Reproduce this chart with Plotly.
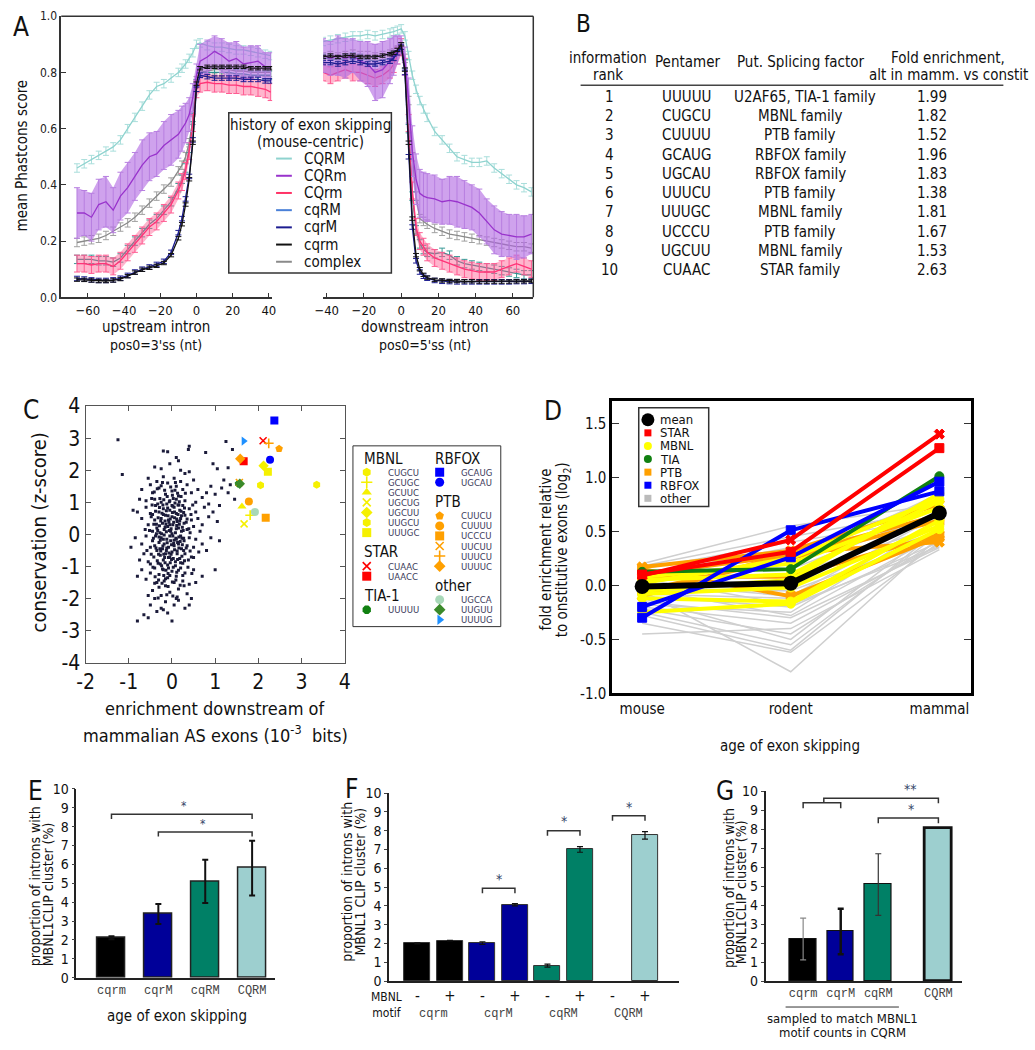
import plotly.graph_objects as go

W, H = 1035, 1050
FONT = "DejaVu Sans Condensed, Liberation Sans Narrow, DejaVu Sans, sans-serif"
MONO = "Courier New, Liberation Mono, monospace"

# ---------------- Panel A data ----------------
A_up_pos = [-66, -62, -58, -54, -50, -46, -42, -38, -34, -30, -26, -22, -18, -14, -10, -8, -6, -4, -2, 0,
            2, 6, 10, 14, 18, 22, 26, 30, 34, 38, 41]
A_dn_pos = [-42, -38, -34, -30, -26, -22, -18, -14, -10, -6, -4, -2, 0,
            2, 4, 6, 8, 10, 12, 14, 18, 22, 26, 30, 34, 38, 42, 46, 50, 54, 58, 62, 66, 70]

A_up_CQRM = [0.46, 0.475, 0.49, 0.505, 0.52, 0.535, 0.56, 0.60, 0.64, 0.68, 0.72, 0.75, 0.76, 0.78, 0.80, 0.815,
             0.83, 0.85, 0.87, 0.90, 0.905, 0.895, 0.89, 0.89, 0.885, 0.88, 0.88, 0.875, 0.87, 0.865, 0.86]
A_up_CQRm = [0.30, 0.30, 0.285, 0.33, 0.34, 0.31, 0.36, 0.39, 0.43, 0.47, 0.50, 0.51, 0.54, 0.56, 0.58, 0.60,
             0.62, 0.65, 0.71, 0.79, 0.84, 0.855, 0.875, 0.86, 0.84, 0.85, 0.83, 0.835, 0.84, 0.82, 0.82]
A_up_CQRm_err = [0.09, 0.08, 0.085, 0.09, 0.09, 0.08, 0.085, 0.09, 0.085, 0.09, 0.085, 0.08, 0.085, 0.09, 0.085,
                 0.08, 0.07, 0.06, 0.05, 0.04, 0.06, 0.06, 0.055, 0.06, 0.065, 0.06, 0.06, 0.06, 0.055, 0.05, 0.05]
A_up_CQrm = [0.12, 0.12, 0.115, 0.12, 0.12, 0.11, 0.13, 0.16, 0.19, 0.22, 0.25, 0.27, 0.30, 0.33, 0.38, 0.41,
             0.45, 0.52, 0.62, 0.74, 0.76, 0.765, 0.76, 0.76, 0.755, 0.755, 0.75, 0.75, 0.745, 0.74, 0.73]
A_up_cqRM = [0.135, 0.135, 0.135, 0.13, 0.13, 0.125, 0.14, 0.17, 0.20, 0.23, 0.26, 0.28, 0.31, 0.34, 0.39, 0.42,
             0.46, 0.53, 0.64, 0.76, 0.80, 0.80, 0.80, 0.80, 0.80, 0.795, 0.795, 0.79, 0.79, 0.79, 0.79]
A_up_cqrM = [0.067, 0.065, 0.062, 0.06, 0.06, 0.062, 0.068, 0.078, 0.09, 0.10, 0.108, 0.117, 0.128, 0.16, 0.23,
             0.28, 0.35, 0.43, 0.56, 0.74, 0.79, 0.785, 0.78, 0.78, 0.78, 0.78, 0.775, 0.775, 0.775, 0.77, 0.77]
A_up_cqrm = [0.063, 0.062, 0.06, 0.058, 0.058, 0.06, 0.065, 0.075, 0.088, 0.098, 0.105, 0.112, 0.122, 0.15, 0.21,
             0.26, 0.33, 0.42, 0.55, 0.76, 0.815, 0.82, 0.82, 0.82, 0.82, 0.82, 0.82, 0.815, 0.815, 0.815, 0.815]
A_up_complex = [0.195, 0.20, 0.205, 0.21, 0.22, 0.235, 0.25, 0.265, 0.285, 0.31, 0.335, 0.36, 0.385, 0.41, 0.45,
                0.47, 0.50, 0.55, 0.63, 0.77, 0.80, 0.805, 0.81, 0.81, 0.81, 0.805, 0.805, 0.80, 0.80, 0.80, 0.80]

A_dn_CQRM = [0.91, 0.915, 0.92, 0.925, 0.93, 0.93, 0.935, 0.93, 0.935, 0.94, 0.945, 0.95, 0.955,
             0.93, 0.86, 0.79, 0.74, 0.70, 0.67, 0.64, 0.59, 0.56, 0.53, 0.50, 0.49, 0.48, 0.48, 0.485, 0.46,
             0.44, 0.42, 0.40, 0.39, 0.375]
A_dn_CQRm = [0.86, 0.85, 0.86, 0.85, 0.86, 0.84, 0.83, 0.80, 0.81, 0.84, 0.86, 0.88, 0.90,
             0.84, 0.70, 0.52, 0.42, 0.37, 0.36, 0.355, 0.35, 0.34, 0.345, 0.34, 0.33, 0.32, 0.30, 0.27, 0.24,
             0.225, 0.22, 0.215, 0.215, 0.225]
A_dn_CQRm_err = [0.06, 0.06, 0.07, 0.07, 0.06, 0.07, 0.08, 0.10, 0.10, 0.08, 0.07, 0.05, 0.03,
                 0.05, 0.08, 0.09, 0.09, 0.085, 0.085, 0.085, 0.085, 0.08, 0.085, 0.09, 0.085, 0.08, 0.085,
                 0.08, 0.085, 0.08, 0.075, 0.08, 0.075, 0.07]
A_dn_CQrm = [0.80, 0.79, 0.80, 0.81, 0.80, 0.80, 0.79, 0.78, 0.79, 0.81, 0.83, 0.86, 0.89,
             0.82, 0.62, 0.38, 0.25, 0.20, 0.18, 0.16, 0.14, 0.13, 0.12, 0.11, 0.10, 0.095, 0.09, 0.09, 0.09,
             0.10, 0.11, 0.12, 0.11, 0.10]
A_dn_cqRM = [0.85, 0.85, 0.845, 0.85, 0.855, 0.85, 0.845, 0.84, 0.845, 0.85, 0.86, 0.875, 0.89,
             0.83, 0.60, 0.36, 0.24, 0.19, 0.17, 0.16, 0.155, 0.16, 0.15, 0.13, 0.12, 0.115, 0.11, 0.105, 0.10,
             0.095, 0.09, 0.085, 0.08, 0.08]
A_dn_cqrM = [0.835, 0.835, 0.83, 0.835, 0.84, 0.835, 0.83, 0.83, 0.835, 0.84, 0.85, 0.87, 0.89,
             0.80, 0.50, 0.25, 0.13, 0.09, 0.075, 0.068, 0.06, 0.057, 0.056, 0.055, 0.055, 0.055, 0.055, 0.055,
             0.055, 0.055, 0.055, 0.056, 0.056, 0.057]
A_dn_cqrm = [0.855, 0.86, 0.855, 0.86, 0.86, 0.855, 0.855, 0.855, 0.86, 0.865, 0.87, 0.88, 0.90,
             0.81, 0.55, 0.28, 0.15, 0.10, 0.08, 0.07, 0.062, 0.06, 0.058, 0.058, 0.057, 0.057, 0.056, 0.056,
             0.056, 0.056, 0.056, 0.057, 0.057, 0.058]
A_dn_complex = [0.855, 0.86, 0.855, 0.86, 0.865, 0.86, 0.86, 0.855, 0.86, 0.865, 0.87, 0.88, 0.89,
                0.85, 0.70, 0.50, 0.36, 0.28, 0.27, 0.26, 0.245, 0.235, 0.225, 0.22, 0.215, 0.21, 0.205, 0.20,
                0.195, 0.19, 0.185, 0.18, 0.18, 0.175]
# constant-size error bars
A_err_CQRM, A_err_CQrm, A_err_cqRM, A_err_cqrM, A_err_cqrm, A_err_complex = 0.015, 0.03, 0.015, 0.008, 0.006, 0.015
A_legend_names = ["CQRM", "CQRm", "CQrm", "cqRM", "cqrM", "cqrm", "complex"]

# ---------------- Panel B data ----------------
B_rank = ["1", "2", "3", "4", "5", "6", "7", "8", "9", "10"]
B_pentamer = ["UUUUU", "CUGCU", "CUUUU", "GCAUG", "UGCAU", "UUUCU", "UUUGC", "UCCCU", "UGCUU", "CUAAC"]
B_factor = ["U2AF65, TIA-1 family", "MBNL family", "PTB family", "RBFOX family", "RBFOX family", "PTB family",
            "MBNL family", "PTB family", "MBNL family", "STAR family"]
B_fold = ["1.99", "1.82", "1.52", "1.96", "1.83", "1.38", "1.81", "1.67", "1.53", "2.63"]

# ---------------- Panel C data ----------------
C_background = [
    (-1.25, 2.95), (-1.15, 1.87), (-0.2, 2.6), (-0.1, 2.58), (0.4, 2.75), (0.38, 2.65), (0.1, 2.4), (0.15, 2.3),
    (0.78, 2.55), (0.95, 2.2), (1.25, 2.9), (1.4, 2.65), (1.05, 2.05), (1.3, 2.08), (-0.4, 2.1), (-0.05, 2.2),
    (0.2, 2.0), (-0.25, 2.05), (0.4, 1.95), (0.3, 1.9),
    (-0.7, 1.4), (-0.55, 1.75), (-0.5, 1.55), (-0.45, 1.3), (-0.35, 1.65), (-0.3, 1.45), (-0.2, 1.8), (-0.15, 1.25),
    (-0.1, 1.6), (0.0, 1.35), (0.05, 1.75), (0.1, 1.5), (0.15, 1.2), (0.2, 1.65), (0.25, 1.4), (0.35, 1.55),
    (0.45, 1.3), (0.5, 1.7), (0.6, 1.4), (0.7, 1.15), (0.8, 1.3), (0.9, 1.5), (1.0, 1.25), (1.15, 1.45),
    (1.2, 1.7), (1.3, 1.3), (1.35, 1.55), (1.45, 1.1), (-0.6, 1.05), (-0.4, 1.1), (-0.25, 1.0), (-0.05, 1.05),
    (0.1, 1.1), (0.3, 1.05), (0.55, 1.0), (0.85, 0.95), (-0.75, 1.1), (-0.8, 0.7), (-0.9, 0.75),
    (-0.7, 0.5), (-0.6, 0.85), (-0.55, 0.3), (-0.5, 0.65), (-0.45, 0.1), (-0.4, 0.45), (-0.38, 0.9), (-0.35, 0.2),
    (-0.3, 0.7), (-0.28, 0.05), (-0.25, 0.5), (-0.22, 0.35), (-0.2, 0.8), (-0.18, 0.15), (-0.15, 0.6), (-0.12, 0.95),
    (-0.1, 0.25), (-0.08, 0.45), (-0.05, 0.75), (-0.03, 0.1), (0.0, 0.55), (0.02, 0.3), (0.05, 0.85), (0.08, 0.05),
    (0.1, 0.65), (0.12, 0.4), (0.15, 0.2), (0.18, 0.75), (0.2, 0.5), (0.22, 0.1), (0.25, 0.9), (0.28, 0.35),
    (0.3, 0.6), (0.35, 0.15), (0.4, 0.8), (0.45, 0.45), (0.5, 0.25), (0.55, 0.7), (0.6, 0.5), (0.7, 0.3),
    (0.75, 0.85), (0.85, 0.55), (0.95, 0.7), (1.05, 0.4), (1.1, 0.9), (-0.62, 0.15), (-0.48, 0.55), (-0.33, 0.95),
    (-0.16, 0.42), (0.06, 0.7), (0.16, 0.92), (0.33, 0.38), (0.42, 0.05), (0.65, 0.1), (-0.05, 0.3), (0.0, 0.9),
    (-0.85, -0.1), (-0.7, -0.3), (-0.65, -0.6), (-0.6, -0.05), (-0.55, -0.85), (-0.5, -0.4), (-0.45, -0.2),
    (-0.42, -0.7), (-0.38, -0.05), (-0.35, -0.5), (-0.32, -0.9), (-0.3, -0.25), (-0.27, -0.65), (-0.25, -0.1),
    (-0.22, -0.45), (-0.2, -0.8), (-0.18, -0.3), (-0.15, -0.6), (-0.12, -0.15), (-0.1, -0.95), (-0.08, -0.4),
    (-0.05, -0.7), (-0.03, -0.2), (0.0, -0.55), (0.02, -0.05), (0.05, -0.35), (0.08, -0.85), (0.1, -0.15),
    (0.12, -0.6), (0.15, -0.3), (0.18, -0.75), (0.2, -0.05), (0.22, -0.45), (0.25, -0.9), (0.28, -0.2),
    (0.3, -0.6), (0.35, -0.35), (0.4, -0.1), (0.45, -0.7), (0.5, -0.4), (0.55, -0.15), (0.62, -0.55), (0.7, -0.3),
    (0.8, -0.5), (0.9, -0.1), (1.1, -0.2), (-0.95, -0.4), (-0.75, -0.8), (-0.58, -0.5), (-0.4, -0.35),
    (-0.28, -0.45), (-0.13, -0.5), (0.03, -0.75), (0.13, -0.25), (0.27, -0.5), (0.38, -0.8), (-0.2, -0.15),
    (-0.05, -0.05),
    (-0.7, -1.1), (-0.6, -1.4), (-0.5, -1.2), (-0.45, -1.75), (-0.4, -1.05), (-0.35, -1.5), (-0.3, -1.25),
    (-0.25, -1.9), (-0.2, -1.1), (-0.15, -1.6), (-0.1, -1.35), (-0.05, -1.8), (0.0, -1.15), (0.05, -1.5),
    (0.1, -1.3), (0.15, -1.7), (0.2, -1.05), (0.25, -1.45), (0.3, -1.2), (0.35, -1.85), (0.4, -1.55), (0.5, -1.1),
    (0.55, -1.5), (0.7, -1.3), (1.0, -1.1), (-0.8, -1.3), (-0.55, -1.9), (-0.3, -1.65), (-0.08, -1.05),
    (0.12, -1.95), (0.28, -1.6), (-0.18, -1.45),
    (-0.65, -2.5), (-0.5, -2.2), (-0.4, -2.0), (-0.35, -2.4), (-0.25, -2.3), (-0.15, -2.1), (-0.1, -2.45),
    (0.0, -2.7), (0.05, -2.2), (0.15, -2.05), (0.3, -2.3), (0.4, -2.2), (0.45, -2.0), (-0.8, -2.7), (-0.55, -2.6),
    (-0.2, -2.35), (0.1, -2.0),
    (-0.33, 0.12), (-0.31, -0.62), (-0.29, 0.84), (-0.27, -0.18), (-0.26, 0.42), (-0.24, -0.98), (-0.23, 0.66),
    (-0.21, -0.36), (-0.19, 1.08), (-0.17, -0.72), (-0.16, 0.22), (-0.14, -1.12), (-0.13, 0.74), (-0.11, -0.26),
    (-0.09, 0.58), (-0.07, -0.58), (-0.06, 1.02), (-0.04, -0.88), (-0.02, 0.18), (-0.01, -0.32), (0.01, 0.68),
    (0.03, -1.02), (0.04, 0.38), (0.06, -0.48), (0.07, 0.98), (0.09, -0.12), (0.11, 0.28), (0.13, -0.78),
    (0.14, 0.62), (0.16, -0.42), (0.17, 1.02), (0.19, -0.22), (0.21, 0.72), (0.23, -0.68), (0.24, 0.22),
    (-0.34, -0.82), (-0.32, 0.52), (-0.3, -0.08), (-0.28, 1.12), (-0.26, -0.52), (-0.24, 0.02), (-0.22, -1.08),
    (-0.2, 0.62), (-0.18, -0.02), (-0.16, -0.88), (-0.14, 0.32), (-0.12, -0.42), (-0.1, 0.82), (-0.08, -0.72),
    (-0.06, 0.12), (-0.04, 0.48), (-0.02, -0.62), (0.0, 0.02), (0.02, 0.88), (0.04, -0.28), (0.06, 0.52),
    (0.08, -0.98), (0.1, 0.18), (0.12, -0.52), (0.14, 0.92), (0.16, -0.08), (0.18, 0.42), (0.2, -0.88),
    (0.22, 0.58), (0.24, -0.32), (-0.36, 0.32), (-0.37, -0.42), (-0.38, 0.72), (0.26, 0.12), (0.27, -0.12),
    (0.29, 0.82), (-0.09, -1.22), (0.01, 1.22), (-0.19, -1.28), (0.11, -1.18),
    (-0.45, 0.62), (-0.43, -0.12), (-0.41, 1.32), (-0.39, -1.32), (-0.36, 0.02), (-0.34, 1.42), (-0.31, -1.42),
    (-0.29, 0.27), (-0.27, -0.92), (-0.25, 1.52), (-0.23, -1.52), (-0.21, 0.92), (-0.19, -0.62), (-0.17, 1.38),
    (-0.15, -1.38), (-0.13, 0.08), (-0.11, 1.18), (-0.09, -1.62), (-0.07, 0.38), (-0.05, -1.28), (-0.03, 1.48),
    (-0.01, -0.78), (0.01, -1.48), (0.03, 1.12), (0.05, -0.18), (0.07, 1.38), (0.09, -1.42), (0.11, 0.48),
    (0.13, 1.28), (0.15, -1.12), (0.17, 0.32), (0.19, -1.58), (0.21, 1.18), (0.23, -0.12), (0.25, -1.28),
    (0.27, 0.68), (0.29, -0.82), (0.31, 1.28), (0.33, -0.42), (0.35, 0.48), (0.37, -1.02), (0.39, 0.18),
    (-0.48, -0.62), (-0.46, 0.92), (-0.44, -1.02), (-0.42, 0.32), (-0.4, -1.52), (-0.52, 0.12), (-0.5, -0.92),
    (-0.47, 1.12), (0.42, -0.52), (0.44, 0.62), (0.46, -1.22), (0.48, 0.92), (0.5, -0.72), (-0.12, -1.88),
    (0.02, -1.92), (-0.22, 1.62), (0.08, 1.62), (-0.32, -1.98),
]
C_motif = ["CUGCU", "GCUGC", "GCUUC", "UGCUG", "UGCUU", "UUGCU", "UUUGC", "CUAAC", "UAACC", "UUUUU",
           "GCAUG", "UGCAU", "CUUCU", "CUUUU", "UCCCU", "UUCUU", "UUUCU", "UUUUC", "UGCCA", "UUGUU", "UUUUG"]
C_family = ["MBNL"] * 7 + ["STAR"] * 2 + ["TIA-1"] + ["RBFOX"] * 2 + ["PTB"] * 6 + ["other"] * 3
C_enrich = [3.35, 1.81, 1.62, 1.67, 2.12, 2.05, 2.22, 2.11, 1.66, 1.55, 2.37, 2.27, 2.48, 1.78, 2.17, 1.56,
            2.24, 1.58, 1.92, 1.57, 1.66]
C_cons = [1.55, 0.60, 0.87, 0.33, 2.14, 1.53, 1.95, 2.92, 2.28, 1.58, 3.55, 2.33, 2.67, 1.03, 0.52, 1.62,
          2.84, 2.36, 0.70, 1.58, 2.91]

# ---------------- Panel D data ----------------
D_ages = ["mouse", "rodent", "mammal"]
D_mean = [-0.01, 0.02, 0.67]
D_STAR = [[0.09, 0.42, 1.40], [0.10, 0.31, 1.27]]
D_RBFOX = [[-0.30, 0.51, 0.87], [-0.20, 0.26, 0.96]]
D_TIA = [[0.125, 0.15, 1.01]]
D_MBNL = [[-0.25, -0.17, 0.52], [-0.12, -0.15, 0.60], [-0.05, 0.05, 0.85], [0.05, 0.10, 0.78],
          [0.08, 0.20, 0.72], [0.02, 0.25, 0.80], [-0.08, -0.02, 0.55]]
D_PTB = [[0.17, 0.32, 0.75], [0.15, -0.10, 0.45], [0.10, 0.28, 0.65], [0.08, 0.08, 0.47],
         [-0.05, 0.25, 0.60], [-0.10, 0.30, 0.40]]
D_other = [[0.20, 0.55, 0.75], [0.18, 0.45, 0.70], [0.15, 0.40, 0.62], [0.10, 0.35, 0.58], [0.12, 0.30, 0.80],
           [0.05, 0.10, 0.55], [0.00, 0.05, 0.50], [-0.05, -0.05, 0.45], [-0.10, -0.20, 0.40],
           [-0.15, -0.30, 0.35], [-0.20, -0.35, 0.38], [-0.22, -0.45, 0.42], [-0.25, -0.55, 0.48],
           [-0.28, -0.60, 0.52], [-0.05, -0.80, 0.45], [-0.45, -0.40, 0.33], [-0.18, -0.25, 0.60],
           [0.02, -0.10, 0.65], [-0.08, -0.12, 0.50], [0.08, 0.20, 0.85], [-0.12, -0.50, 0.55],
           [-0.03, -0.28, 0.47], [0.14, 0.15, 0.68], [-0.35, -0.62, 0.40], [0.06, -0.18, 0.36]]

# ---------------- Panels E, F, G data ----------------
E_cats = ["cqrm", "cqrM", "cqRM", "CQRM"]
E_vals = [2.12, 3.37, 5.1, 5.8]
E_err = [0.08, 0.53, 1.14, 1.45]

F_groups = ["cqrm", "cqrM", "cqRM", "CQRM"]
F_motif = ["-", "+", "-", "+", "-", "+", "-", "+"]
F_vals = [2.0, 2.15, 2.02, 4.06, 0.82, 7.0, None, 7.75]
F_err = [0.03, 0.02, 0.07, 0.06, 0.08, 0.15, None, 0.2]

G_cats = ["cqrm", "cqrM", "cqRM", "CQRM"]
G_vals = [2.21, 2.61, 5.08, 8.06]
G_err = [1.1, 1.2, 1.62, 0.0]

# ---------------- styling ----------------
A_style = {
    "CQRM": dict(color="#8fd3cf", err="#a9dedb", legend="#8fd3cf"),
    "CQRm": dict(color="#9933cc", err="#b77fe0", legend="#9933cc", band="rgba(175,100,225,0.6)"),
    "CQrm": dict(color="#ff3377", err="#ff5c92", legend="#ff3366", band="rgba(255,90,145,0.45)"),
    "cqRM": dict(color="#2e8f8f", err="#3a9a96", legend="#4a80d8"),
    "cqrM": dict(color="#1c1c90", err="#1c1c90", legend="#1c1c90"),
    "cqrm": dict(color="#111111", err="#111111", legend="#111111"),
    "complex": dict(color="#8a8a8a", err="#a0a0a0", legend="#8a8a8a"),
}
A_data = {
    "CQRM": (A_up_CQRM, A_dn_CQRM, A_err_CQRM, A_err_CQRM),
    "CQRm": (A_up_CQRm, A_dn_CQRm, A_up_CQRm_err, A_dn_CQRm_err),
    "CQrm": (A_up_CQrm, A_dn_CQrm, A_err_CQrm, A_err_CQrm),
    "cqRM": (A_up_cqRM, A_dn_cqRM, A_err_cqRM, A_err_cqRM),
    "cqrM": (A_up_cqrM, A_dn_cqrM, A_err_cqrM, A_err_cqrM),
    "cqrm": (A_up_cqrm, A_dn_cqrm, A_err_cqrm, A_err_cqrm),
    "complex": (A_up_complex, A_dn_complex, A_err_complex, A_err_complex),
}
A_order = ["CQRM", "complex", "cqRM", "CQrm", "CQRm", "cqrM", "cqrm"]

C_fam_color = {"MBNL": "#f5f000", "STAR": "#ff0000", "TIA-1": "#118011", "RBFOX": "#0000ff", "PTB": "#ffa000"}
C_other_color = {"UGCCA": "#a8d8b8", "UUGUU": "#3a8a2a", "UUUUG": "#1e90ff"}
C_symbol = {"CUGCU": "hexagon", "GCUGC": "cross-thin-open", "GCUUC": "triangle-up", "UGCUG": "x-thin-open",
            "UGCUU": "diamond", "UUGCU": "hexagon", "UUUGC": "square", "CUAAC": "x-thin-open",
            "UAACC": "square", "UUUUU": "octagon", "GCAUG": "square", "UGCAU": "circle",
            "CUUCU": "pentagon", "CUUUU": "circle", "UCCCU": "square", "UUCUU": "x-thin-open",
            "UUUCU": "cross-thin-open", "UUUUC": "diamond", "UGCCA": "circle", "UUGUU": "diamond",
            "UUUUG": "triangle-right"}

BAR_COLORS = ["#000000", "#000099", "#008066", "#9dcfcf"]

fig = go.Figure()
annotations = []
shapes = []


def text(t, x, y, size, anchor="center", color="#111111", angle=0, family=FONT, yanchor="middle"):
    annotations.append(dict(text=t, x=x / W, y=1 - y / H, xref="paper", yref="paper", showarrow=False,
                            font=dict(size=size, color=color, family=family), xanchor=anchor,
                            yanchor=yanchor, textangle=angle))


def pline(x0, y0, x1, y1, color="#333333", width=1.5):
    shapes.append(dict(type="line", xref="paper", yref="paper", x0=x0 / W, y0=1 - y0 / H, x1=x1 / W,
                       y1=1 - y1 / H, line=dict(color=color, width=width), layer="above"))


def prect(x0, y0, x1, y1, color="#333333", width=1.5):
    shapes.append(dict(type="rect", xref="paper", yref="paper", x0=x0 / W, y0=1 - y1 / H, x1=x1 / W,
                       y1=1 - y0 / H, line=dict(color=color, width=width), fillcolor="rgba(0,0,0,0)",
                       layer="above"))


def glyph(x, y, symbol, color, size, lw=0):
    fig.add_trace(go.Scatter(x=[x], y=[y], xaxis="x9", yaxis="y9", mode="markers", hoverinfo="skip",
                             showlegend=False,
                             marker=dict(symbol=symbol, color=color, size=size,
                                         line=dict(color=color, width=lw))))


# ================= Panel A =================
for name in A_order:
    st = A_style[name]
    up, dn, eu, ed = A_data[name]
    for xa, pos, vals, err in (("x", A_up_pos, up, eu), ("x2", A_dn_pos, dn, ed)):
        if "band" in st:
            errs = err if isinstance(err, list) else [err] * len(vals)
            lo = [v - e for v, e in zip(vals, errs)]
            hi = [v + e for v, e in zip(vals, errs)]
            fig.add_trace(go.Scatter(x=pos, y=lo, xaxis=xa, yaxis="y", mode="lines",
                                     line=dict(width=0, color=st["band"]), hoverinfo="skip", showlegend=False))
            fig.add_trace(go.Scatter(x=pos, y=hi, xaxis=xa, yaxis="y", mode="lines", fill="tonexty",
                                     fillcolor=st["band"], line=dict(width=0, color=st["band"]),
                                     hoverinfo="skip", showlegend=False))
        if isinstance(err, list):
            ey = dict(type="data", array=err, color=st["err"], thickness=1, width=3)
        else:
            ey = dict(type="constant", value=err, color=st["err"], thickness=1, width=3)
        fig.add_trace(go.Scatter(x=pos, y=vals, xaxis=xa, yaxis="y", mode="lines", name=name,
                                 line=dict(color=st["color"], width=1.3), error_y=ey, showlegend=False))

pline(53, 4.3, 532, 4.3)
pline(532, 4.3, 532, 292)
prect(223, 103, 388, 267)
text("history of exon skipping", 305.5, 116, 15)
text("(mouse-centric)", 305.5, 133, 15)
for i, name in enumerate(A_legend_names):
    yy = 150 + 17.6 * i
    pline(271, yy, 287, yy, color=A_style[name]["legend"], width=2)
    text(name, 297, yy, 15, anchor="left")
text("mean Phastcons score", 13, 147, 15, angle=-90)
text("upstream intron", 149, 322, 15)
text("pos0=3'ss (nt)", 149, 341, 14)
text("downstream intron", 422, 322, 15)
text("pos0=5'ss (nt)", 422, 341, 14)
text("A", 12, 15, 26)

# ================= Panel B =================
text("B", 583, 12, 24)
text("information", 608, 47, 15)
text("rank", 608, 64, 15)
text("Pentamer", 688, 51, 15)
text("Put. Splicing factor", 803, 51, 15)
text("Fold enrichment,", 953, 47, 15)
text("alt in mamm. vs constit", 953, 64, 15)
pline(580, 75, 1009, 75, color="#444444", width=1.5)
for i in range(len(B_rank)):
    yy = 86.7 + 19.73 * i
    text(B_rank[i], 609, yy, 15)
    text(B_pentamer[i], 687, yy, 15)
    text(B_factor[i], 808 if i == 0 else 803, yy, 15)
    text(B_fold[i], 937, yy, 15)

# ================= Panel C =================
fig.add_trace(go.Scatter(x=[p[0] for p in C_background], y=[p[1] for p in C_background], xaxis="x3",
                         yaxis="y3", mode="markers", hoverinfo="skip", showlegend=False,
                         marker=dict(symbol="square", size=3, color="#1b1b3a")))
for i, m in enumerate(C_motif):
    fam = C_family[i]
    col = C_other_color[m] if fam == "other" else C_fam_color[fam]
    sym = C_symbol[m]
    thin = "thin" in sym
    fig.add_trace(go.Scatter(x=[C_enrich[i]], y=[C_cons[i]], xaxis="x3", yaxis="y3", mode="markers",
                             hoverinfo="skip", showlegend=False,
                             marker=dict(symbol=sym, size=8 if not thin else 7, color=col,
                                         line=dict(color=col, width=1.6 if thin else 0))))
text("C", 22, 407, 26)
text("conservation (z-score)", 30, 533, 20, angle=-90)
text("enrichment downstream of", 210, 713, 18)
text("mammalian AS exons (10<sup>-3</sup>  bits)", 210, 739, 18)
prect(349, 444, 499, 629, color="#333333", width=1)
cols = [(["MBNL", "STAR", "TIA-1"], 360, 363, 383), (["RBFOX", "PTB", "other"], 432, 437, 457)]
for fams, hx, mx, tx in cols:
    yy = 457
    for fam in fams:
        text(fam, hx - 2, yy, 15, anchor="left")
        yy += 14
        for i, m in enumerate(C_motif):
            if C_family[i] != fam:
                continue
            col = C_other_color[m] if fam == "other" else C_fam_color[fam]
            sym = C_symbol[m]
            thin = "thin" in sym
            glyph(mx, yy, sym, col, 9 if not thin else 8, 1.6 if thin else 0)
            text(m, tx, yy, 9.5, anchor="left", color="#3a3a5a")
            yy += 10.3
        yy += 10

# ================= Panel D =================
for line in D_other:
    fig.add_trace(go.Scatter(x=D_ages, y=line, xaxis="x4", yaxis="y4", mode="lines", hoverinfo="skip",
                             showlegend=False, line=dict(color="#cfcfcf", width=1.5)))
D_colored = [(D_PTB, "#ffa000", ["x", "square", "circle", "x", "square", "x"]),
             (D_MBNL, "#ffff00", ["circle"] * 7),
             (D_TIA, "#118011", ["circle"]),
             (D_RBFOX, "#0000ff", ["square", "square"]),
             (D_STAR, "#ff0000", ["x", "square"])]
for lines, col, syms in D_colored:
    for line, sym in zip(lines, syms):
        fig.add_trace(go.Scatter(x=D_ages, y=line, xaxis="x4", yaxis="y4", mode="lines+markers",
                                 hoverinfo="skip", showlegend=False, line=dict(color=col, width=4),
                                 marker=dict(symbol=sym, size=9, color=col, line=dict(color=col, width=1))))
fig.add_trace(go.Scatter(x=D_ages, y=D_mean, xaxis="x4", yaxis="y4", mode="lines+markers", hoverinfo="skip",
                         showlegend=False, line=dict(color="#000000", width=6),
                         marker=dict(symbol="circle", size=15, color="#000000")))
text("D", 552, 408, 26)
text("fold enrichment relative", 545, 550, 15, angle=-90)
text("to onstitutive exons (log<sub>2</sub>)", 562, 550, 15, angle=-90)
text("age of exon skipping", 792, 751, 15)
prect(639, 405, 710, 506, color="#333333", width=1.5)
D_leg = [("mean", "circle", "#000000", 13), ("STAR", "square", "#ff0000", 7), ("MBNL", "circle", "#ffff00", 8),
         ("TIA", "circle", "#118011", 8), ("PTB", "square", "#ffa000", 7), ("RBFOX", "square", "#0000ff", 7),
         ("other", "square", "#bbbbbb", 7)]
for i, (lab, sym, col, sz) in enumerate(D_leg):
    yy = 417.3 + 13.4 * i
    glyph(648.3, yy, sym, col, sz)
    text(lab, 659, yy, 13, anchor="left")

# ================= Panel E =================
E_pos = list(range(len(E_cats)))
fig.add_trace(go.Bar(x=E_pos, y=E_vals, xaxis="x5", yaxis="y5", width=0.61, hoverinfo="skip", showlegend=False,
                     marker=dict(color=BAR_COLORS, line=dict(color="#222222", width=1.5)),
                     error_y=dict(type="data", array=E_err, color="#111111", thickness=2, width=3)))
text("E", 27, 797, 26)
text("proportion of introns with", 26, 895, 14, angle=-90)
text("MBNL1CLIP cluster (%)", 39.5, 903, 14, angle=-90)
text("age of exon skipping", 170, 1027, 15)


def bracket(xa, ya, x0, x1, h, drop, color="#333333"):
    shapes.append(dict(type="path", xref=xa, yref=ya,
                       path=f"M {x0} {h - drop} L {x0} {h} L {x1} {h} L {x1} {h - drop}",
                       line=dict(color=color, width=1.5)))


def star(xa, ya, x, y, s, size=12, color="#334466"):
    annotations.append(dict(text=s, x=x, y=y, xref=xa, yref=ya, showarrow=False, yanchor="bottom",
                            font=dict(size=size, color=color, family=FONT)))


bracket("x5", "y5", 0, 3, 8.65, 0.25)
star("x5", "y5", 1.55, 8.6, "*")
bracket("x5", "y5", 1, 3, 7.72, 0.25)
star("x5", "y5", 1.95, 7.67, "*")

# ================= Panel F =================
F_pos = list(range(len(F_vals)))
F_colors = [BAR_COLORS[i // 2] for i in F_pos]
fig.add_trace(go.Bar(x=F_pos, y=F_vals, xaxis="x6", yaxis="y6", width=0.8, hoverinfo="skip", showlegend=False,
                     marker=dict(color=F_colors, line=dict(color="#333333", width=1)),
                     error_y=dict(type="data", array=F_err, color="#111111", thickness=1.2, width=3)))
text("F", 348, 795, 26)
text("proportion of introns with", 343, 890, 14, angle=-90)
text("MBNL1 CLIP cluster (%)", 356, 890, 14, angle=-90)
text("MBNL<br>motif", 365, 999, 12, anchor="left", yanchor="top")
for gi, g in enumerate(F_groups):
    annotations.append(dict(text=g, x=2 * gi + 0.5, y=1 - 1025 / H, xref="x6", yref="paper", showarrow=False,
                            font=dict(size=12, color="#444444", family=MONO), yanchor="middle"))
bracket("x6", "y6", 2, 3, 4.94, 0.27)
star("x6", "y6", 2.5, 4.9, "*", 14)
bracket("x6", "y6", 4, 5, 8.0, 0.27)
star("x6", "y6", 4.5, 7.96, "*", 14)
bracket("x6", "y6", 6, 7, 8.79, 0.27)
star("x6", "y6", 6.5, 8.75, "*", 14)

# ================= Panel G =================
G_pos = [0, 1, 2, 3.6]
G_err_style = [("#888888", 1.2), ("#111111", 2.5), ("#333333", 1.2), ("#111111", 1)]
G_line_w = [1.2, 1.2, 1.2, 2.8]
for i in range(len(G_vals)):
    fig.add_trace(go.Bar(x=[G_pos[i]], y=[G_vals[i]], xaxis="x7", yaxis="y7", width=0.71, hoverinfo="skip",
                         showlegend=False,
                         marker=dict(color=BAR_COLORS[i], line=dict(color="#111111", width=G_line_w[i])),
                         error_y=dict(type="data", array=[G_err[i]], visible=G_err[i] > 0,
                                      color=G_err_style[i][0], thickness=G_err_style[i][1], width=3)))
text("G", 727, 797, 26)
text("proportion of introns with", 730, 896, 14, angle=-90)
text("MBNL1CLIP cluster (%)", 743.5, 901, 14, angle=-90)
bracket("x7", "y7", 0, 1, 9.38, 0.28)
shapes.append(dict(type="path", xref="x7", yref="y7", path="M 0.55 9.38 L 0.55 9.62 L 3.6 9.62 L 3.6 9.36",
                   line=dict(color="#333333", width=1.5)))
star("x7", "y7", 2.87, 9.58, "**", 14)
bracket("x7", "y7", 2, 3.6, 8.58, 0.28)
star("x7", "y7", 2.87, 8.54, "*", 14)
pline(788, 1018.3, 903, 1018.3, color="#333333", width=1)
text("sampled to match MBNL1", 846, 1030, 13)
text("motif counts in CQRM", 846, 1044, 13)


# ================= layout =================
def dom(a, b, total):
    return [a / total, b / total]


ydomA = [1 - 292 / H, 1 - 4.3 / H]
tickfont_A = dict(size=12, family=FONT, color="#222222")
layout = dict(
    width=W, height=H, margin=dict(l=0, r=0, t=0, b=0), paper_bgcolor="white",
    plot_bgcolor="rgba(0,0,0,0)", showlegend=False, font=dict(family=FONT, color="#111111"),
    annotations=annotations, shapes=shapes,
    xaxis=dict(domain=dom(53, 267, W), range=[-74.7, 41.8], anchor="y", tickvals=[-60, -40, -20, 0, 20, 40],
               ticks="inside", ticklen=5, tickcolor="#333333", showline=True, linecolor="#333333",
               linewidth=1.5, showgrid=False, zeroline=False, tickfont=dict(size=13, family=FONT)),
    xaxis2=dict(domain=dom(319, 532, W), range=[-41.8, 71], anchor="y", tickvals=[-40, -20, 0, 20, 40, 60],
                ticks="inside", ticklen=5, tickcolor="#333333", showline=True, linecolor="#333333",
                linewidth=1.5, showgrid=False, zeroline=False, tickfont=dict(size=13, family=FONT)),
    yaxis=dict(domain=ydomA, range=[0, 1.0], anchor="x", tickvals=[0, 0.2, 0.4, 0.6, 0.8, 1.0],
               tickformat=".1f", ticks="inside", ticklen=5, tickcolor="#333333", showline=True,
               linecolor="#333333", linewidth=1.5, showgrid=False, zeroline=False, tickfont=tickfont_A),
    xaxis3=dict(domain=dom(77.7, 340.7, W), range=[-2, 4], anchor="y3", tickvals=[-2, -1, 0, 1, 2, 3, 4],
                ticktext=["-2", "-1", "0", "1", "2", "3", "4"], ticks="inside", ticklen=5, tickcolor="#555555",
                mirror="ticks", showline=True, linecolor="#555555", linewidth=1, showgrid=False,
                zeroline=False, tickfont=dict(size=21, family=FONT, color="#111111")),
    yaxis3=dict(domain=[1 - 666 / H, 1 - 403.3 / H], range=[-4, 4], anchor="x3",
                tickvals=[-4, -3, -2, -1, 0, 1, 2, 3, 4], ticktext=["-4", "-3", "-2", "-1", "0", "1", "2", "3", "4"],
                ticks="inside", ticklen=5, tickcolor="#555555", mirror="ticks", showline=True,
                linecolor="#555555", linewidth=1, showgrid=False, zeroline=False,
                tickfont=dict(size=21, family=FONT, color="#111111")),
    xaxis4=dict(domain=dom(612.3, 975.7, W), range=[-0.2, 2.21], anchor="y4", type="category",
                categoryorder="array", categoryarray=D_ages, ticks="", showline=True, mirror=True,
                linecolor="#000000", linewidth=3, showgrid=False, zeroline=False,
                tickfont=dict(size=15, family=FONT, color="#111111")),
    yaxis4=dict(domain=[1 - 697.3 / H, 1 - 397.7 / H], range=[-1.0, 1.71], anchor="x4",
                tickvals=[-1.0, -0.5, 0.0, 0.5, 1.0, 1.5], ticktext=["-1.0", "-0.5", "0.0", "0.5", "1.0", "1.5"],
                ticks="inside", ticklen=7, tickcolor="#333333", mirror="ticks", showline=True,
                linecolor="#000000", linewidth=3, showgrid=False, zeroline=False,
                tickfont=dict(size=15, family=FONT, color="#111111")),
    xaxis5=dict(domain=dom(68.3, 270, W), range=[-0.75, 3.49], anchor="y5", tickvals=E_pos, ticktext=E_cats,
                ticks="", showline=True, linecolor="#222222", linewidth=1.5, showgrid=False, zeroline=False,
                tickfont=dict(size=12, family=MONO, color="#444444")),
    yaxis5=dict(domain=[1 - 988.3 / H, 1 - 795 / H], range=[0, 10], anchor="x5", dtick=1, ticks="outside",
                ticklen=3, showline=True, linecolor="#222222", linewidth=1.5, showgrid=False, zeroline=False,
                tickfont=dict(size=14, family=FONT, color="#111111")),
    xaxis6=dict(domain=dom(385.7, 680, W), range=[-0.87, 8.05], anchor="y6", tickvals=F_pos, ticktext=F_motif,
                ticks="", showline=True, linecolor="#222222", linewidth=1.5, showgrid=False, zeroline=False,
                tickfont=dict(size=15, family=FONT, color="#111111")),
    yaxis6=dict(domain=[1 - 991.7 / H, 1 - 799.3 / H], range=[0, 10], anchor="x6", dtick=1, ticks="outside",
                ticklen=3, showline=True, linecolor="#222222", linewidth=1.5, showgrid=False, zeroline=False,
                tickfont=dict(size=14, family=FONT, color="#111111")),
    xaxis7=dict(domain=dom(767.7, 966.7, W), range=[-1.0, 4.22], anchor="y7", tickvals=G_pos, ticktext=G_cats,
                ticks="", showline=True, linecolor="#222222", linewidth=1.5, showgrid=False, zeroline=False,
                tickfont=dict(size=12, family=MONO, color="#444444")),
    yaxis7=dict(domain=[1 - 991.7 / H, 1 - 797.3 / H], range=[0, 10], anchor="x7", dtick=1, ticks="outside",
                ticklen=3, showline=True, linecolor="#222222", linewidth=1.5, showgrid=False, zeroline=False,
                tickfont=dict(size=14, family=FONT, color="#111111")),
    xaxis9=dict(domain=[0, 1], range=[0, W], anchor="y9", visible=False, fixedrange=True),
    yaxis9=dict(domain=[0, 1], range=[H, 0], anchor="x9", visible=False, fixedrange=True),
    bargap=0,
)
fig.update_layout(**layout)
fig.write_html("out.html", config={"displayModeBar": False},
               post_script="document.body.style.margin='0';document.body.style.overflow='hidden';")
